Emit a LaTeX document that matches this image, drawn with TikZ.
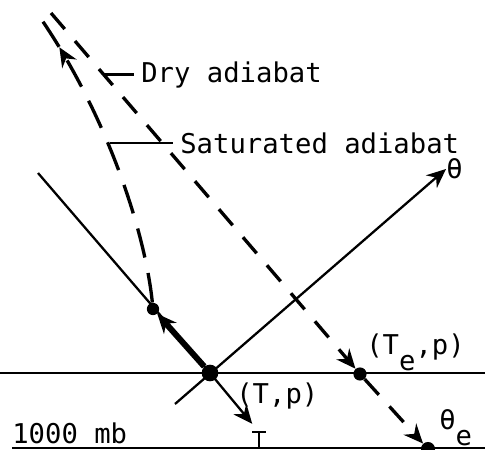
\documentclass[tikz,border=0pt]{standalone}
\usepackage{fontspec}
\newfontfamily\typefont{DejaVu Sans Mono}
\usetikzlibrary{arrows.meta,decorations.markings}

\begin{document}
\begin{tikzpicture}[x=0.02cm, y=-0.02cm,
    thinline/.style={line width=1.3pt},
    heavy/.style={line width=3.4pt},
    dryline/.style={line width=1.9pt, dash pattern=on 12pt off 9pt},
    satline/.style={line width=1.9pt, dash pattern=on 17pt off 9pt},
    spot/.style={circle, fill, inner sep=0pt, minimum size=#1},
    spot/.default=6pt,
    lbl/.style={font=\typefont\fontsize{15.5}{18}\selectfont, inner sep=0pt, anchor=base west},
    arrowtip/.style={-{Stealth[length=11pt, width=9.5pt]}}
]
\useasboundingbox (0,0) rectangle (485,450);

% points on the chart
\node[spot=9.5pt] (P)      at (210,373) {};
\node[spot=7pt]   (lcl)    at (153,309) {};
\node[spot=7.5pt] (Te)     at (360,374) {};
\node[spot=8pt]   (thetae) at (428,449) {};
\coordinate (plevL)   at (0,373);
\coordinate (plevR)   at (485,373);
\coordinate (mbL)     at (12,448);
\coordinate (mbR)     at (485,448);
\coordinate (dstart)  at (38,173);
\coordinate (Tmark)   at (259,432);
\coordinate (thfoot)  at (175,404);
\coordinate (thhead)  at (446,169);
\coordinate (drytop)  at (51,13);
\coordinate (sattop)  at (37,13);
\coordinate (dryleg)  at (103,73);
\coordinate (satleg)  at (110,137);

% labels
\node[lbl] (drylbl) at (141,82)  {Dry adiabat};
\node[lbl] (satlbl) at (180,153) {Saturated adiabat};
\node[lbl] (Tp)     at (236,403) {(T,p)};
\node[lbl] (Tep)    at (366,355) {(T\raisebox{-9pt}{e},p)};
\node[lbl] (thlbl)  at (446,178) {θ};
\node[lbl] (thelbl) at (439,430) {θ\raisebox{-9pt}{e}};
\node[lbl] (mb)     at (12,443)  {1000 mb};

% levels
\draw[thinline] (plevL) -- (plevR);
\draw[thinline] (mbL) -- (mbR);

% solid lines through (T,p)
\draw[thinline] (dstart) -- (P.center);
\draw[thinline, arrowtip, shorten >=6pt] (P.center) -- (Tmark);
\draw[thinline] ([xshift=-3.8pt]Tmark) -- ([xshift=3.8pt]Tmark) (Tmark) -- (Tmark |- mbL);
\draw[thinline, arrowtip] (thfoot) -- (thhead);
\draw[heavy, arrowtip] (P) -- (lcl);

% adiabats
\draw[satline, postaction={decorate}, decoration={markings,
    mark=at position 0.87 with {\arrow{Stealth[length=11pt, width=9.5pt]}}}]
    (lcl) .. controls (145,230) and (105,110) .. (sattop);
\draw[dryline, arrowtip] (drytop) -- (Te);
\draw[dryline, arrowtip] (Te) -- (thetae);

% leaders
\draw[thinline] ([xshift=-4pt]drylbl.west) -- (drylbl.west -| dryleg);
\draw[thinline] ([xshift=-4pt]satlbl.west) -- (satlbl.west -| satleg);
\end{tikzpicture}
\end{document}
